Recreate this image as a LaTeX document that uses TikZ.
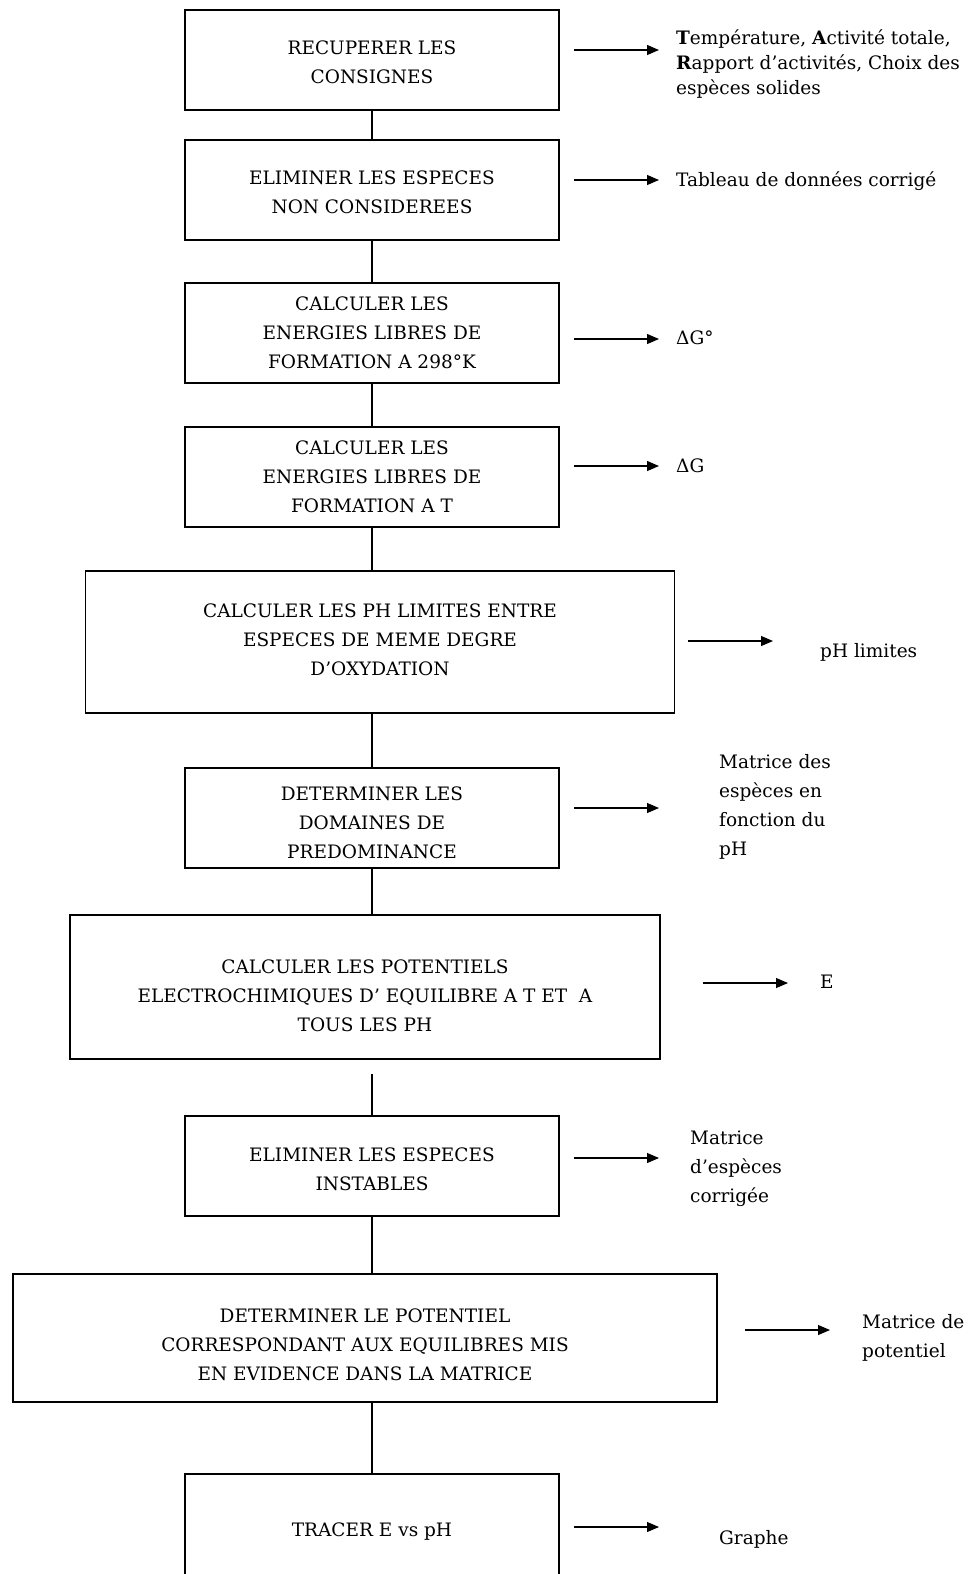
\documentclass[tikz,border=0pt]{standalone}
\usepackage{fontspec}
\setmainfont{DejaVu Serif}
\usetikzlibrary{arrows.meta}
\begin{document}
\begin{tikzpicture}[x=1pt,y=-1pt,
  stepbox/.style={draw,line width=1.3pt,inner sep=0pt},
  boxtext/.style={align=center,inner sep=0pt,font=\fontsize{18.5}{29}\selectfont},
  lbl/.style={anchor=west,align=left,inner sep=0pt,font=\fontsize{18.5}{29}\selectfont},
  link/.style={line width=1.1pt},
  arr/.style={line width=1.1pt,-{Triangle[length=12pt,width=10pt]}}]
\useasboundingbox (0,0) rectangle (979,1574);
% boxes
\node[stepbox,minimum width=374,minimum height=100] (b1) at (372,60) {};
\node[boxtext] (b1t) at (372,62) {RECUPERER LES\\CONSIGNES};
\node[stepbox,minimum width=374,minimum height=100] (b2) at (372,190) {};
\node[boxtext] (b2t) at (372,192) {ELIMINER LES ESPECES\\NON CONSIDEREES};
\node[stepbox,minimum width=374,minimum height=100] (b3) at (372,333) {};
\node[boxtext] (b3t) at (372,333) {CALCULER LES\\ENERGIES LIBRES DE\\FORMATION A 298°K};
\node[stepbox,minimum width=374,minimum height=100] (b4) at (372,477) {};
\node[boxtext] (b4t) at (372,477) {CALCULER LES\\ENERGIES LIBRES DE\\FORMATION A T};
\node[stepbox,minimum width=589,minimum height=142] (b5) at (380,642) {};
\node[boxtext] (b5t) at (380,640) {CALCULER LES PH LIMITES ENTRE\\ESPECES DE MEME DEGRE\\D’OXYDATION};
\node[stepbox,minimum width=374,minimum height=100] (b6) at (372,818) {};
\node[boxtext] (b6t) at (372,823) {DETERMINER LES\\DOMAINES DE\\PREDOMINANCE};
\node[stepbox,minimum width=590,minimum height=144] (b7) at (365,987) {};
\node[boxtext] (b7t) at (365,996) {CALCULER LES POTENTIELS\\ELECTROCHIMIQUES D’ EQUILIBRE A T ET\ \ A\\TOUS LES PH};
\node[stepbox,minimum width=374,minimum height=100] (b8) at (372,1166) {};
\node[boxtext] (b8t) at (372,1169) {ELIMINER LES ESPECES\\INSTABLES};
\node[stepbox,minimum width=704,minimum height=128] (b9) at (365,1338) {};
\node[boxtext] (b9t) at (365,1345) {DETERMINER LE POTENTIEL\\CORRESPONDANT AUX EQUILIBRES MIS\\EN EVIDENCE DANS LA MATRICE};
\node[stepbox,minimum width=374,minimum height=110] (b10) at (372,1529) {};
\node[boxtext] (b10t) at (372,1532) {TRACER E vs pH};
% vertical connectors
\coordinate (g7) at (372,1074);
\draw[link] (b1.south) -- (b2.north);
\draw[link] (b2.south) -- (b3.north);
\draw[link] (b3.south) -- (b4.north);
\draw[link] (b4.south) -- (b4.south |- b5.north);
\draw[link] (b4.south |- b5.south) -- (b6.north);
\draw[link] (b6.south) -- (b6.south |- b7.north);
\draw[link] (g7) -- (b8.north);
\draw[link] (b8.south) -- (b8.south |- b9.north);
\draw[link] (b8.south |- b9.south) -- (b10.north);
% labels
\node[lbl,font=\fontsize{18.5}{25}\selectfont] (t1) at (676,64) {\textbf{T}empérature, \textbf{A}ctivité totale,\\\textbf{R}apport d’activités, Choix des\\espèces solides};
\node[lbl] (t2) at (676,181) {Tableau de données corrigé};
\node[lbl] (t3) at (676,338) {ΔG°};
\node[lbl] (t4) at (676,466) {ΔG};
\node[lbl] (t5) at (820,652) {pH limites};
\node[lbl] (t6) at (719,807) {Matrice des\\espèces en\\fonction du\\pH};
\node[lbl] (t7) at (820,982) {E};
\node[lbl] (t8) at (690,1169) {Matrice\\d’espèces\\corrigée};
\node[lbl] (t9) at (862,1338) {Matrice de\\potentiel};
\node[lbl] (t10) at (719,1539) {Graphe};
% arrows
\coordinate (s1) at (574,50);   \coordinate (e1) at (659,50);
\coordinate (s2) at (574,180);  \coordinate (e2) at (659,180);
\coordinate (s3) at (574,339);  \coordinate (e3) at (659,339);
\coordinate (s4) at (574,466);  \coordinate (e4) at (659,466);
\coordinate (s5) at (688,641);  \coordinate (e5) at (773,641);
\coordinate (s6) at (574,808);  \coordinate (e6) at (659,808);
\coordinate (s7) at (703,983);  \coordinate (e7) at (788,983);
\coordinate (s8) at (574,1158); \coordinate (e8) at (659,1158);
\coordinate (s9) at (745,1330); \coordinate (e9) at (830,1330);
\coordinate (s10) at (574,1527); \coordinate (e10) at (659,1527);
\foreach \i in {1,...,10} {\draw[arr] (s\i) -- (e\i);}
\end{tikzpicture}
\end{document}
